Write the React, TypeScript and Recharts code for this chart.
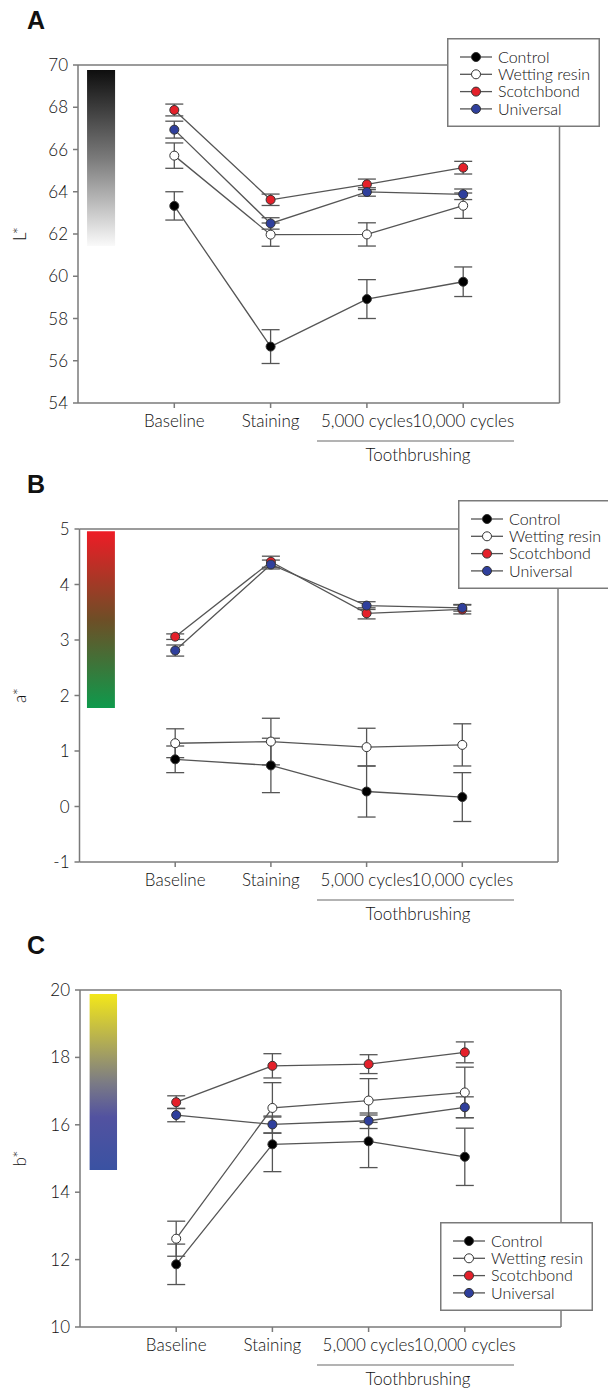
import React from 'react';
import { LineChart, Line, XAxis, YAxis, ErrorBar, ReferenceLine, ReferenceArea, Legend } from 'recharts';

// ---------- data ----------
const categories = ['Baseline', 'Staining', '5,000 cycles', '10,000 cycles'];
const seriesNames = ['Control', 'Wetting resin', 'Scotchbond', 'Universal'];
const seriesFill = ['#000000', '#ffffff', '#e4202a', '#2f3f9c'];

// L*
const lControl = [63.33, 56.67, 58.92, 59.74];
const lControlErr = [0.67, 0.8, 0.92, 0.7];
const lWetting = [65.71, 61.97, 61.98, 63.34];
const lWettingErr = [0.6, 0.55, 0.55, 0.6];
const lScotch = [67.87, 63.62, 64.35, 65.14];
const lScotchErr = [0.28, 0.27, 0.25, 0.3];
const lUniversal = [66.94, 62.5, 63.99, 63.88];
const lUniversalErr = [0.4, 0.27, 0.2, 0.25];

// a*
const aControl = [0.85, 0.74, 0.27, 0.17];
const aControlErr = [0.24, 0.49, 0.46, 0.44];
const aWetting = [1.14, 1.17, 1.07, 1.11];
const aWettingErr = [0.26, 0.42, 0.34, 0.38];
const aScotch = [3.06, 4.41, 3.48, 3.55];
const aScotchErr = [0.05, 0.1, 0.1, 0.08];
const aUniversal = [2.81, 4.36, 3.62, 3.58];
const aUniversalErr = [0.1, 0.08, 0.07, 0.06];

// b*
const bControl = [11.86, 15.42, 15.51, 15.05];
const bControlErr = [0.6, 0.81, 0.78, 0.85];
const bWetting = [12.62, 16.5, 16.72, 16.96];
const bWettingErr = [0.52, 0.75, 0.65, 0.75];
const bScotch = [16.67, 17.75, 17.8, 18.15];
const bScotchErr = [0.19, 0.36, 0.28, 0.31];
const bUniversal = [16.29, 16.01, 16.12, 16.52];
const bUniversalErr = [0.2, 0.25, 0.23, 0.31];

const lTicks = [54, 56, 58, 60, 62, 64, 66, 68, 70];
const aTicks = [-1, 0, 1, 2, 3, 4, 5];
const bTicks = [10, 12, 14, 16, 18, 20];

// ---------- layout / style ----------
const FONT = 'Lato, "Open Sans", sans-serif';
const WEIGHT = 300;
const AXIS = '#7a7a7a';
const LINE = '#555555';

type PanelCfg = {
  letter: string;
  yLabel: string;
  domain: [number, number];
  ticks: number[];
  values: number[][];
  errors: number[][];
  plot: { left: number; right: number; top: number; bottom: number };
  legend: { left: number; top: number };
  grad: { id: string; x: [number, number]; y: [number, number] };
};

const panels: PanelCfg[] = [
  {
    letter: 'A', yLabel: 'L*', domain: [54, 70], ticks: lTicks,
    values: [lControl, lWetting, lScotch, lUniversal],
    errors: [lControlErr, lWettingErr, lScotchErr, lUniversalErr],
    plot: { left: 78, right: 559.5, top: 65, bottom: 403 },
    legend: { left: 447, top: 38 },
    grad: { id: 'gradL', x: [0.094, 0.385], y: [61.43, 69.76] },
  },
  {
    letter: 'B', yLabel: 'a*', domain: [-1, 5], ticks: aTicks,
    values: [aControl, aWetting, aScotch, aUniversal],
    errors: [aControlErr, aWettingErr, aScotchErr, aUniversalErr],
    plot: { left: 79.5, right: 558, top: 529, bottom: 862 },
    legend: { left: 457.5, top: 500 },
    grad: { id: 'gradA', x: [0.078, 0.37], y: [1.775, 4.96] },
  },
  {
    letter: 'C', yLabel: 'b*', domain: [10, 20], ticks: bTicks,
    values: [bControl, bWetting, bScotch, bUniversal],
    errors: [bControlErr, bWettingErr, bScotchErr, bUniversalErr],
    plot: { left: 80, right: 561, top: 990, bottom: 1327 },
    legend: { left: 440, top: 1222 },
    grad: { id: 'gradB', x: [0.1, 0.385], y: [14.66, 19.88] },
  },
];

const LegendBox = () => (
  <svg width={153} height={89} style={{ display: 'block' }}>
    <rect x={0.75} y={0.75} width={151.5} height={87.5} fill="#ffffff" stroke={AXIS} strokeWidth={1.5} />
    {seriesNames.map((n, i) => {
      const cy = 19 + i * 17.3;
      return (
        <g key={n}>
          <line x1={13} x2={45} y1={cy} y2={cy} stroke={LINE} strokeWidth={1.3} />
          <circle cx={29} cy={cy} r={4.5} fill={seriesFill[i]} stroke="#333" strokeWidth={1} />
          <text x={51} y={cy + 5.6} fontFamily={FONT} fontWeight={WEIGHT} fontSize={16} fill="#111">{n}</text>
        </g>
      );
    })}
  </svg>
);

const TOP_M = 65;
const BOT_M = 67;
const XAXIS_H = 30;
const YAXIS_W = 60;

function Panel({ p }: { p: PanelCfg }) {
  const rows = categories.map((c, i) => {
    const r: Record<string, number | string> = { x: i + 1, cat: c };
    p.values.forEach((v, k) => { r['s' + k] = v[i]; r['e' + k] = p.errors[k][i]; });
    return r;
  });
  const chartTop = p.plot.top - TOP_M;
  const height = p.plot.bottom - p.plot.top + TOP_M + BOT_M;
  const tickStyle = { fill: '#111', fontSize: 17, fontFamily: FONT, fontWeight: WEIGHT };
  return (
    <div style={{ position: 'absolute', left: 0, top: chartTop }}>
      <LineChart
        width={608}
        height={height}
        data={rows}
        margin={{ top: TOP_M, bottom: BOT_M - XAXIS_H, left: p.plot.left - YAXIS_W, right: 608 - p.plot.right }}
      >
        <XAxis
          type="number" dataKey="x" domain={[0, 5]} ticks={[1, 2, 3, 4]} interval={0}
          tickFormatter={(v: number) => categories[v - 1]}
          height={XAXIS_H} tickSize={5} tickMargin={7}
          stroke={AXIS} strokeWidth={1.5}
          tick={tickStyle}
        />
        <YAxis
          type="number" domain={p.domain} ticks={p.ticks} interval={0}
          width={YAXIS_W} tickSize={5} tickMargin={5}
          stroke={AXIS} strokeWidth={1.5}
          tick={tickStyle}
        />
        <ReferenceArea x1={p.grad.x[0]} x2={p.grad.x[1]} y1={p.grad.y[0]} y2={p.grad.y[1]}
          fill={`url(#${p.grad.id})`} fillOpacity={1} stroke="none" />
        <ReferenceLine y={p.domain[1]} stroke={AXIS} strokeWidth={1.5} />
        <ReferenceLine x={5} stroke={AXIS} strokeWidth={1.5} />
        {seriesNames.map((n, i) => (
          <Line key={n} dataKey={'s' + i} name={n} stroke={LINE} strokeWidth={1.3}
            isAnimationActive={false}
            dot={{ r: 4.5, fill: seriesFill[i], stroke: '#333', strokeWidth: 1, fillOpacity: 1 }}
            activeDot={false}>
            <ErrorBar dataKey={'e' + i} width={9} stroke={LINE} strokeWidth={1.3} direction="y" />
          </Line>
        ))}
        <Legend layout="vertical" align="center" verticalAlign="middle"
          wrapperStyle={{ left: p.legend.left, top: p.legend.top - chartTop, width: 153, height: 89, margin: 0, padding: 0 }}
          content={() => <LegendBox />} />
      </LineChart>
    </div>
  );
}

export default function App() {
  return (
    <div style={{ position: 'absolute', left: 0, top: 0, width: 608, height: 1393, overflow: 'hidden', background: '#fff' }}>
      {panels.map((p) => <Panel key={p.letter} p={p} />)}
      <svg width={608} height={1393} style={{ position: 'absolute', left: 0, top: 0, pointerEvents: 'none' }}>
        <defs>
          <linearGradient id="gradL" x1="0" y1="0" x2="0" y2="1">
            <stop offset="0" stopColor="#0e0e0e" />
            <stop offset="0.5" stopColor="#7a7a7a" />
            <stop offset="1" stopColor="#fafafa" />
          </linearGradient>
          <linearGradient id="gradA" x1="0" y1="0" x2="0" y2="1">
            <stop offset="0" stopColor="#ee1c26" />
            <stop offset="0.5" stopColor="#6e4e26" />
            <stop offset="1" stopColor="#0e9a4c" />
          </linearGradient>
          <linearGradient id="gradB" x1="0" y1="0" x2="0" y2="1">
            <stop offset="0" stopColor="#f3e71a" />
            <stop offset="0.5" stopColor="#7c7c84" />
            <stop offset="0.7" stopColor="#5252a0" />
            <stop offset="1" stopColor="#3a52a2" />
          </linearGradient>
        </defs>
        {panels.map((p) => {
          const mid = (p.plot.top + p.plot.bottom) / 2;
          return (
            <g key={p.letter}>
              <text x={27} y={p.plot.top - 36} fontFamily='"Liberation Sans", Arial, sans-serif' fontWeight="bold" fontSize={25} fill="#111">{p.letter}</text>
              <text transform={`translate(19,${mid}) rotate(-90)`} textAnchor="middle" dominantBaseline="central"
                fontFamily={FONT} fontWeight={WEIGHT} fontSize={17} fill="#111">{p.yLabel}</text>
              <line x1={317} x2={514} y1={p.plot.bottom + 38} y2={p.plot.bottom + 38} stroke="#9a9a9a" strokeWidth={1.5} />
              <text x={418} y={p.plot.bottom + 58} textAnchor="middle" fontFamily={FONT} fontWeight={WEIGHT} fontSize={17} fill="#111">Toothbrushing</text>
            </g>
          );
        })}
      </svg>
    </div>
  );
}
